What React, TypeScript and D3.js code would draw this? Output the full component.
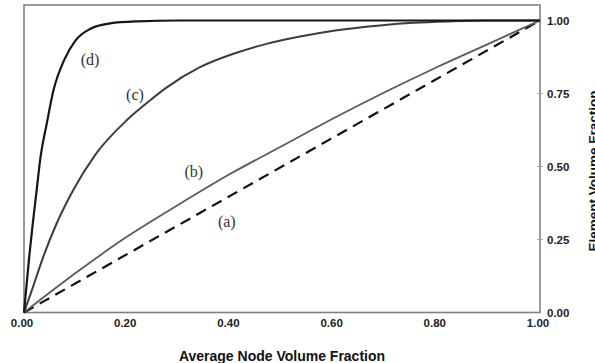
import React from "react";
import * as d3 from "d3";

// Curve (a): reference diagonal (dashed)
const xA = [0, 1];
const yA = [0, 1];

// Curve (b)
const xB = [0, 0.1, 0.2, 0.3, 0.4, 0.5, 0.6, 0.7, 0.8, 0.9, 1.0];
const yB = [0, 0.135, 0.26, 0.37, 0.475, 0.57, 0.665, 0.755, 0.84, 0.92, 1.0];

// Curve (c)
const xC = [0, 0.015, 0.037, 0.063, 0.095, 0.138, 0.2, 0.244, 0.276, 0.341, 0.406, 0.47, 0.535, 0.6, 0.69, 0.755, 0.82, 0.9, 1.0];
const yC = [0, 0.075, 0.189, 0.304, 0.418, 0.54, 0.66, 0.726, 0.77, 0.84, 0.886, 0.92, 0.945, 0.965, 0.983, 0.992, 0.997, 1.0, 1.0];

// Curve (d)
const xD = [0, 0.01, 0.017, 0.0245, 0.032, 0.044, 0.057, 0.078, 0.1, 0.129, 0.167, 0.22, 0.3, 0.5, 1.0];
const yD = [0, 0.189, 0.304, 0.418, 0.532, 0.646, 0.76, 0.865, 0.932, 0.972, 0.99, 0.997, 1.0, 1.0, 1.0];

const xTicks = [0, 0.2, 0.4, 0.6, 0.8, 1.0];
const yTicks = [0, 0.25, 0.5, 0.75, 1.0];

const seriesLabels = ["(a)", "(b)", "(c)", "(d)"];
const xTitle = "Average Node Volume Fraction";
const yTitle = "Element Volume Fraction";

const W = 595;
const H = 363;
const left = 24;
const right = 540;
const frameTop = 5;
const bottom = 312.5;

export default function App() {
  const x = d3.scaleLinear().domain([0, 1]).range([left, right]);
  const y = d3.scaleLinear().domain([0, 1]).range([bottom, 20.5]);

  const line = d3
    .line<[number, number]>()
    .x((d) => x(d[0]))
    .y((d) => y(d[1]))
    .curve(d3.curveMonotoneX);

  const zip = (xs: number[], ys: number[]) => xs.map((v, i) => [v, ys[i]] as [number, number]);

  const series = [
    { pts: zip(xA, yA), stroke: "#111", width: 2.2, dash: "11,7", label: seriesLabels[0], lx: 0.393, ly: 0.31 },
    { pts: zip(xB, yB), stroke: "#5a5a5a", width: 1.8, dash: undefined, label: seriesLabels[1], lx: 0.329, ly: 0.48 },
    { pts: zip(xC, yC), stroke: "#3c3c3c", width: 2.0, dash: undefined, label: seriesLabels[2], lx: 0.215, ly: 0.745 },
    { pts: zip(xD, yD), stroke: "#151515", width: 2.2, dash: undefined, label: seriesLabels[3], lx: 0.128, ly: 0.865 },
  ];

  const sans = "'Liberation Sans', Arial, sans-serif";
  const serif = "'Liberation Serif', 'Times New Roman', serif";

  return (
    <svg
      width={W}
      height={H}
      viewBox={`0 0 ${W} ${H}`}
      style={{ position: "absolute", left: 0, top: 0, background: "#fff" }}
    >
      <rect x={0} y={0} width={W} height={H} fill="#fff" />

      {/* plot frame */}
      <rect
        x={left}
        y={frameTop}
        width={right - left}
        height={bottom - frameTop}
        fill="none"
        stroke="#808080"
        strokeWidth={1.6}
      />

      {/* right axis ticks and labels */}
      {yTicks.map((t) => (
        <g key={"yt" + t}>
          {t > 0 && t < 1 && (
            <line x1={right - 3} x2={right + 3} y1={y(t)} y2={y(t)} stroke="#aaa" strokeWidth={1} />
          )}
          <text
            x={right + 7}
            y={y(t) + 4}
            fontFamily={sans}
            fontWeight="bold"
            fontSize={11.5}
            fill="#222"
          >
            {t.toFixed(2)}
          </text>
        </g>
      ))}

      {/* bottom axis labels */}
      {xTicks.map((t) => (
        <text
          key={"xt" + t}
          x={x(t) - 2}
          y={327}
          textAnchor="middle"
          fontFamily={sans}
          fontWeight="bold"
          fontSize={11.5}
          fill="#222"
        >
          {t.toFixed(2)}
        </text>
      ))}

      {/* curves */}
      {series.map((s, i) => (
        <path
          key={"s" + i}
          d={line(s.pts) || ""}
          fill="none"
          stroke={s.stroke}
          strokeWidth={s.width}
          strokeDasharray={s.dash}
          strokeLinejoin="round"
        />
      ))}

      {/* curve labels */}
      {series.map((s, i) => (
        <text
          key={"l" + i}
          x={x(s.lx)}
          y={y(s.ly) + 5}
          textAnchor="middle"
          fontFamily={serif}
          fontSize={16}
          fill="#333"
        >
          {s.label}
        </text>
      ))}

      {/* axis titles */}
      <text
        x={(left + right) / 2}
        y={361}
        textAnchor="middle"
        fontFamily={sans}
        fontWeight="bold"
        fontSize={14}
        fill="#111"
      >
        {xTitle}
      </text>
      <text
        transform={`translate(598, 171) rotate(-90)`}
        textAnchor="middle"
        fontFamily={sans}
        fontWeight="bold"
        fontSize={13.5}
        fill="#111"
      >
        {yTitle}
      </text>
    </svg>
  );
}
